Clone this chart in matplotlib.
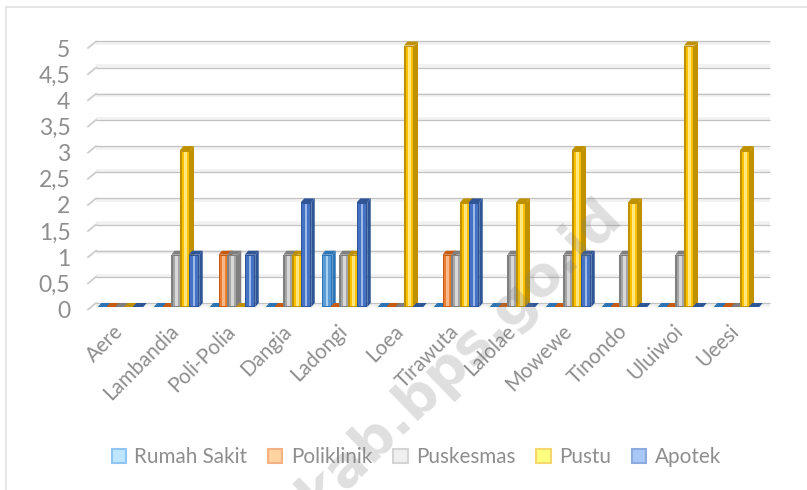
import matplotlib
matplotlib.use("Agg")
import matplotlib.pyplot as plt
from matplotlib.patches import Patch, Polygon
from matplotlib.transforms import ScaledTranslation

categories = ["Aere", "Lambandia", "Poli-Polia", "Dangia", "Ladongi", "Loea", "Tirawuta",
              "Lalolae", "Mowewe", "Tinondo", "Uluiwoi", "Ueesi"]
rumah_sakit = [0, 0, 0, 0, 1, 0, 0, 0, 0, 0, 0, 0]
poliklinik = [0, 0, 1, 0, 0, 0, 1, 0, 0, 0, 0, 0]
puskesmas = [0, 1, 1, 1, 1, 0, 1, 1, 1, 1, 1, 0]
pustu = [0, 3, 0, 1, 1, 5, 2, 2, 3, 2, 5, 3]
apotek = [0, 1, 1, 2, 2, 0, 2, 0, 1, 0, 0, 0]
y_ticks = [0, 0.5, 1, 1.5, 2, 2.5, 3, 3.5, 4, 4.5, 5]
y_labels = ["0", "0,5", "1", "1,5", "2", "2,5", "3", "3,5", "4", "4,5", "5"]
series = [("Rumah Sakit", rumah_sakit), ("Poliklinik", poliklinik), ("Puskesmas", puskesmas),
          ("Pustu", pustu), ("Apotek", apotek)]
# edge, body, highlight, legend fill, legend edge
styles = [("#2e75b6", "#5b9bd5", "#a9d0f0", "#bfe6ff", "#8fc6f0"),
          ("#c55a11", "#ed7d31", "#f8b98a", "#ffd3a0", "#f4b183"),
          ("#7f7f7f", "#a5a5a5", "#d8d8d8", "#f0f0f0", "#d4d4d4"),
          ("#bf9000", "#ffc000", "#ffe680", "#ffff80", "#f5d76e"),
          ("#2f5597", "#4472c4", "#9db8e8", "#a9c8f5", "#8faadc")]

W, H = 807, 490
fig = plt.figure(figsize=(W / 100, H / 100), dpi=100)
plt.rcParams["font.family"] = ["Lato", "DejaVu Sans"]
L, R, B, T = 94, 766, 307, 45.5
ax = fig.add_axes([L / W, (H - B) / H, (R - L) / W, (B - T) / H])
ax.set_xlim(-0.5, 11.5)
ax.set_ylim(0, 5)
ax.patch.set_alpha(0)
for s in ax.spines.values():
    s.set_visible(False)
px = 12 / (R - L)
py = 5 / (B - T)
grey = "#8e8e8e"

# back wall gridlines with floor bands
for k, v in enumerate(y_ticks):
    off = 4 * py
    band = -3 * py if k % 2 == 0 else 2.5 * py
    ax.plot([-0.5 + 2 * px, 11.5 + 4 * px], [v + off + band / 2] * 2, color="#f1f1f1", lw=2.6, zorder=1,
            clip_on=False, solid_capstyle="butt")
    ax.plot([-0.5 + 2 * px, 11.5 + 4 * px], [v + off] * 2, color="#c2c2c2", lw=0.9, zorder=1.1,
            clip_on=False, solid_capstyle="butt")
    ax.plot([-0.5 - 6 * px, -0.5 + 2 * px], [v - 2.5 * py, v + off], color="#cdcdcd", lw=1.3, zorder=1,
            clip_on=False)

pitch = 8.75 * px
w = 10.5 * px
dx, dy = 3.5 * px, 4 * py
for j, (name, vals) in enumerate(series):
    edge, body, hi, _, _ = styles[j]
    for i, v in enumerate(vals):
        x0 = i + (j - 2) * pitch - w / 2 - 1.5 * px
        z = 2 + j + i * 0.001
        if v == 0:
            ax.add_patch(Polygon([(x0, 0), (x0 + w, 0), (x0 + w + dx, dy), (x0 + dx, dy)],
                                 closed=True, fc=edge, ec="none", zorder=z, clip_on=False))
            continue
        ax.add_patch(Polygon([(x0 + w, 0), (x0 + w + dx, dy), (x0 + w + dx, v + dy), (x0 + w, v)],
                             closed=True, fc=edge, ec="none", zorder=z, clip_on=False))
        ax.add_patch(Polygon([(x0, v), (x0 + w, v), (x0 + w + dx, v + dy), (x0 + dx, v + dy)],
                             closed=True, fc=edge, ec="none", zorder=z, clip_on=False))
        ax.bar(x0, v, width=w, align="edge", color=edge, zorder=z)
        ax.bar(x0 + 1.6 * px, v - 3 * py, bottom=1.5 * py, width=w - 3.2 * px, align="edge", color=body, zorder=z)
        ax.bar(x0 + 3.8 * px, v - 3 * py, bottom=1.5 * py, width=w - 7.6 * px, align="edge", color=hi, zorder=z)

ax.set_yticks(y_ticks, y_labels)
ax.set_xticks(range(len(categories)), categories)
ax.tick_params(axis="both", length=0, colors=grey)
ax.tick_params(axis="y", labelsize=16.5, pad=17)
ax.tick_params(axis="x", labelsize=14.8, pad=11)
shift_x = ScaledTranslation(-9 / 100, 1 / 100, fig.dpi_scale_trans)
shift_y = ScaledTranslation(0, -2.5 / 100, fig.dpi_scale_trans)
for t in ax.get_xticklabels():
    t.set_rotation(45)
    t.set_ha("right")
    t.set_rotation_mode("anchor")
    t.set_transform(t.get_transform() + shift_x)
for t in ax.get_yticklabels():
    t.set_transform(t.get_transform() + shift_y)

handles = [Patch(fc=s[3], ec=s[4], lw=1.5) for s in styles]
leg = fig.legend(handles, [n for n, _ in series], ncol=5, loc="center", bbox_to_anchor=(416.5 / W, 1 - 457 / H),
                 frameon=False, fontsize=14.9, labelcolor=grey, handlelength=0.68, handleheight=0.7,
                 handletextpad=0.42, columnspacing=1.01, borderpad=0)

# watermark and picture border
fig.text(470 / W, 1 - 366 / H, "kab.bps.go.id", rotation=44, ha="center", va="baseline",
         rotation_mode="anchor", fontsize=40, fontweight="bold", family="DejaVu Sans",
         color="#808080", alpha=0.25, zorder=20)
fig.add_artist(plt.Line2D([6 / W, 6 / W], [0, 1 - 7 / H], color="#e4e4e4", lw=1.3))
fig.add_artist(plt.Line2D([6 / W, 1], [1 - 7 / H, 1 - 7 / H], color="#e4e4e4", lw=1.3))
fig.savefig("out.png", dpi=100)
